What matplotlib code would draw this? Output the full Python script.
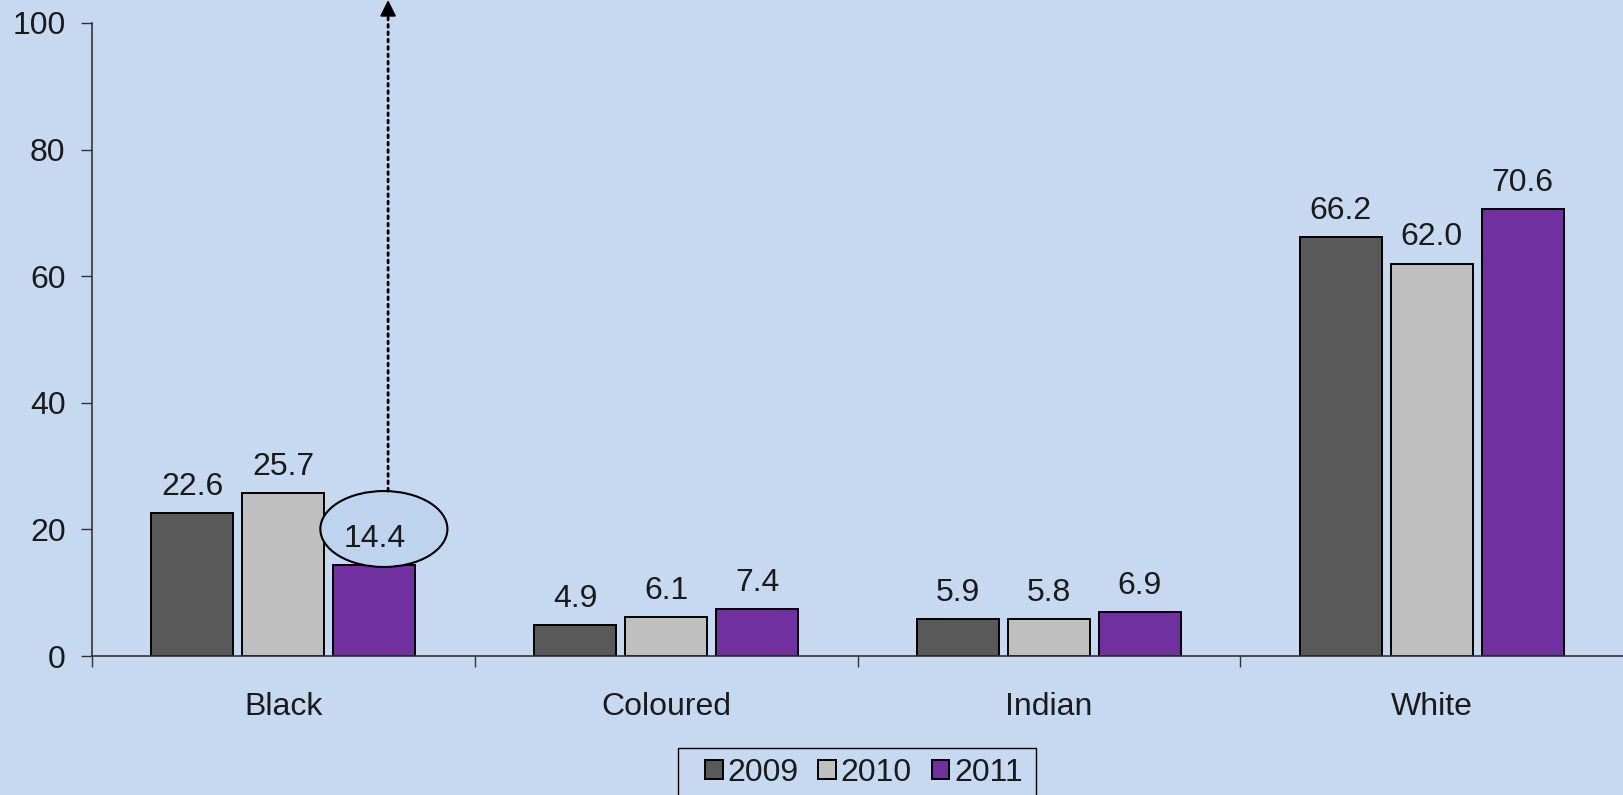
import matplotlib as mpl
mpl.use('Agg')
import matplotlib.pyplot as plt
from matplotlib.patches import Ellipse, Rectangle, Patch

import numpy as np

categories = ['Black', 'Coloured', 'Indian', 'White']
years = ['2009', '2010', '2011']
vals_2009 = [22.6, 4.9, 5.9, 66.2]
vals_2010 = [25.7, 6.1, 5.8, 62.0]
vals_2011 = [14.4, 7.4, 6.9, 70.6]
yticks = [0, 20, 40, 60, 80, 100]

colors = ['#595959', '#bfbfbf', '#7030a0']
bg = '#c6d9f1'
fs = 23

plt.rcParams['font.family'] = ['Liberation Sans', 'DejaVu Sans']

fig = plt.figure(figsize=(16.23, 7.95), dpi=100, facecolor=bg)
ax = fig.add_axes([92 / 1623, 1 - 656 / 795, 1 - 92 / 1623, (656 - 23) / 795])
ax.set_facecolor(bg)

x = np.arange(len(categories))
step = 0.2376
width = 0.214
series = [vals_2009, vals_2010, vals_2011]

for i, vals in enumerate(series):
    pos = x + (i - 1) * step
    ax.bar(pos, vals, width, color=colors[i], edgecolor='black',
           linewidth=1.4, zorder=2, label=years[i])
    for p, v in zip(pos, vals):
        ax.annotate(f'{v:.1f}', (p, v), xytext=(0, 8), textcoords='offset points',
                    ha='center', va='bottom', fontsize=fs, color='#1a1a1a', zorder=7)

ax.set_xlim(-0.5, len(categories) - 0.5)
ax.set_ylim(0, 100)
ax.set_yticks(yticks)
ax.set_yticklabels([str(t) for t in yticks], fontsize=fs, color='#1a1a1a')

# category boundaries as major ticks, names as minor
ax.set_xticks(np.arange(len(categories)) - 0.5)
ax.set_xticklabels([])
ax.set_xticks(x, minor=True)
ax.set_xticklabels(categories, minor=True, fontsize=fs, color='#1a1a1a')
ax.tick_params(axis='x', which='minor', length=0, pad=26)
ax.tick_params(axis='x', which='major', length=8, width=1, color='#333333')
ax.tick_params(axis='y', length=8, width=1, color='#333333', pad=11)

for s in ['top', 'right']:
    ax.spines[s].set_visible(False)
for s in ['left', 'bottom']:
    ax.spines[s].set_color('#333333')
    ax.spines[s].set_linewidth(1.2)

# highlight around the 2011 Black value
ex = x[0] + step + 0.025
ell = Ellipse((ex, 20.06), 0.332, 12.0, facecolor='#bdd3ee', edgecolor='black',
              linewidth=1.5, zorder=4)
ax.add_patch(ell)
ax.annotate('', xy=(ex + 0.011, 0.985), xycoords=('data', 'figure fraction'),
            xytext=(ex + 0.011, 26.06), textcoords='data',
            arrowprops=dict(arrowstyle='-', linestyle=':', lw=2, color='black',
                            shrinkA=0, shrinkB=0),
            annotation_clip=False, zorder=6)
ax.annotate('', xy=(ex + 0.011, 1.0), xycoords=('data', 'figure fraction'),
            xytext=(ex + 0.011, 0.98), textcoords=('data', 'figure fraction'),
            arrowprops=dict(arrowstyle='-|>', lw=1.5, color='black',
                            mutation_scale=24, shrinkA=0, shrinkB=0),
            annotation_clip=False, zorder=6)

# legend
handles = [Patch(facecolor=c, edgecolor='black', linewidth=1.4) for c in colors]
leg = fig.legend(handles, years, loc='center left',
                 bbox_to_anchor=(705 / 1623, 1 - 773 / 795), ncol=3, frameon=False,
                 fontsize=fs, handlelength=0.55, handleheight=0.55, handletextpad=0.15,
                 columnspacing=0.62, borderpad=0, borderaxespad=0)
for t in leg.get_texts():
    t.set_color('#1a1a1a')
fig.patches.append(Rectangle((678 / 1623, -0.05), (1036 - 678) / 1623, 0.05 + 1 - 748 / 795,
                             transform=fig.transFigure, facecolor='none',
                             edgecolor='black', linewidth=1))

fig.savefig('out.png', dpi=100, facecolor=bg)
